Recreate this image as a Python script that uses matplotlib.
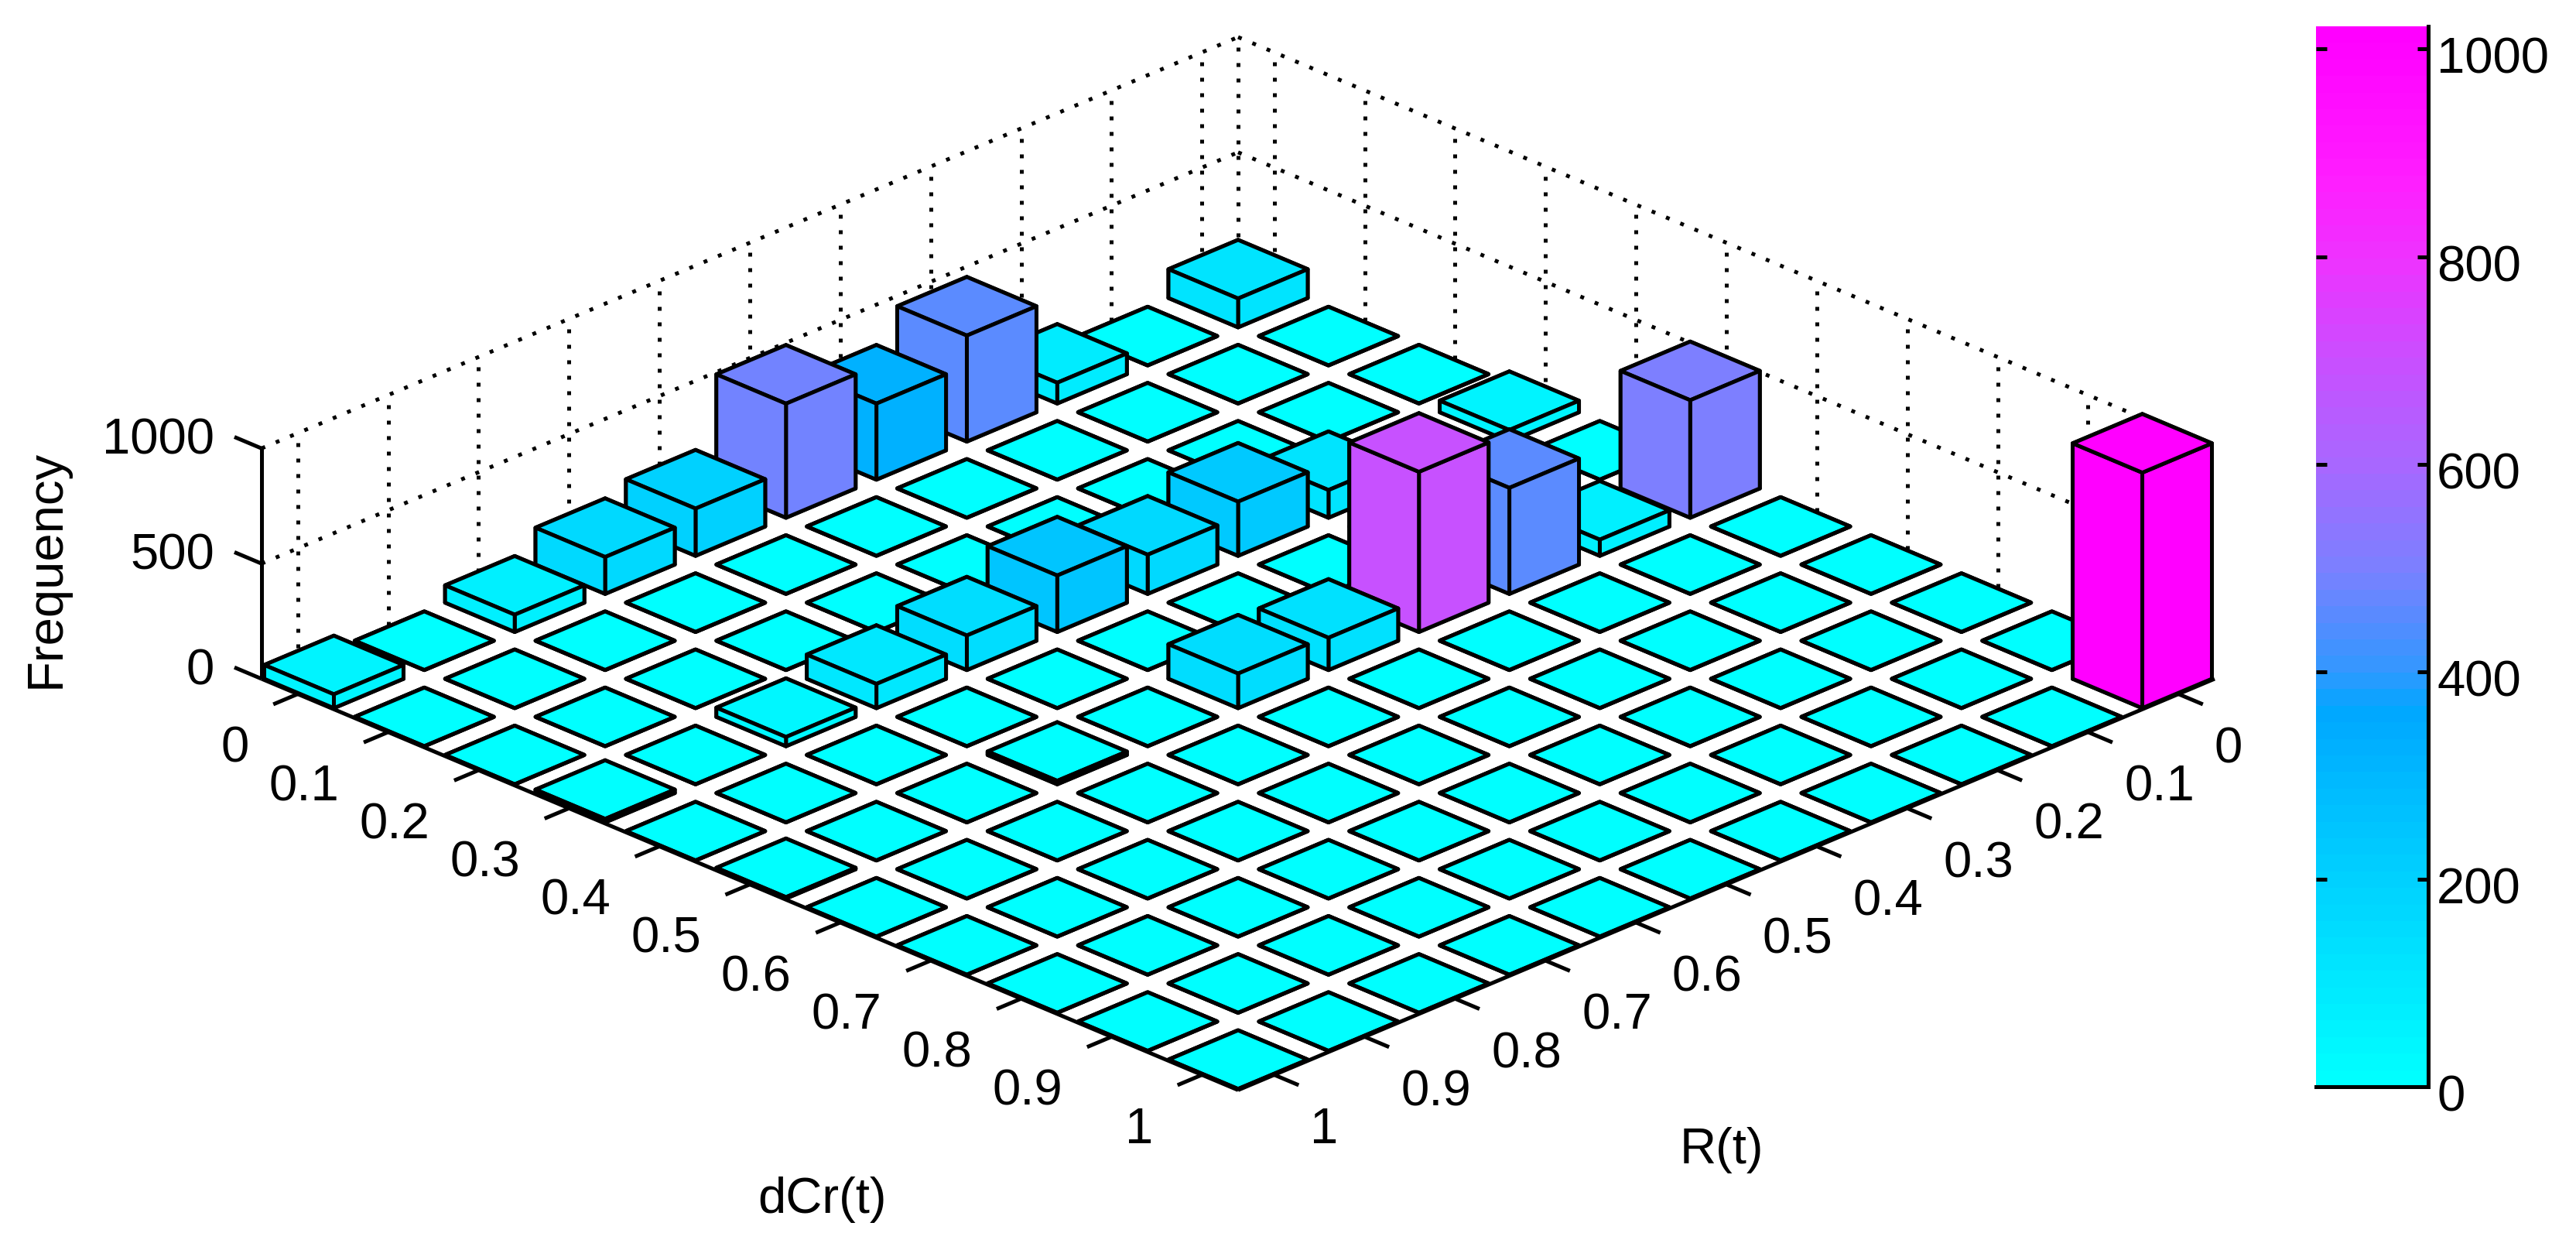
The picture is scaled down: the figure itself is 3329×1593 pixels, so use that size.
import numpy as np
import matplotlib
matplotlib.use('Agg')
import matplotlib.pyplot as plt
from matplotlib import font_manager
from matplotlib.colors import LinearSegmentedColormap
from matplotlib.transforms import ScaledTranslation
from mpl_toolkits.mplot3d import proj3d

# non-zero cells of the histogram, index = value * 10
cell_dcr = [0, 0, 0, 0, 0, 0, 0, 0, 0,
            3, 3, 3, 3, 3, 3, 3, 3, 3,
            5, 5, 5, 5, 5, 5, 5, 5,
            10]
cell_r = [0, 2, 3, 4, 5, 6, 7, 8, 10,
          0, 2, 3, 4, 5, 6, 7, 8, 10,
          0, 1, 2, 3, 4, 5, 7, 10,
          0]
cell_freq = [125, 90, 460, 330, 495, 205, 160, 75, 60,
             50, 120, 235, 170, 245, 150, 105, 40, 15,
             510, 70, 460, 695, 140, 150, 15, 6,
             1022]

tick_labels = ['0', '0.1', '0.2', '0.3', '0.4', '0.5', '0.6', '0.7', '0.8', '0.9', '1']
z_ticks = [0, 500, 1000]
cbar_ticks = [0, 200, 400, 600, 800, 1000]
cbar_max = 1022

cmap_nodes = [(0, '#00FFFF'), (200, '#00D0FF'), (360, '#00A8FF'), (400, '#3398FF'),
              (500, '#7C80FF'), (600, '#A868FF'), (700, '#C850FF'), (800, '#EE33FF'),
              (880, '#FF1EFF'), (1022, '#FF00FF')]

installed = {f.name for f in font_manager.fontManager.ttflist}
if 'Liberation Sans Narrow' in installed:
    plt.rcParams['font.family'] = ['Liberation Sans Narrow', 'Liberation Sans', 'DejaVu Sans']
    FS = 53
else:
    plt.rcParams['font.family'] = ['Liberation Sans', 'DejaVu Sans']
    FS = 47

W, H = 3330, 1593
LW = 3.6

freq = np.zeros((11, 11))
for d, r, f in zip(cell_dcr, cell_r, cell_freq):
    freq[d, r] = f

cmap = LinearSegmentedColormap.from_list(
    'freq', [(v / cbar_max, c) for v, c in cmap_nodes], N=64)

fig = plt.figure(figsize=(W / 100, H / 100), dpi=100)
side = W
ax = fig.add_axes([0, (H - side) / 2 / H, side / W, side / H],
                  projection='3d', proj_type='ortho')
ax.computed_zorder = False
ax.set_xticks([])
ax.set_yticks([])
ax.set_zticks([])
ax.set_axis_off()
ax.view_init(elev=24.9, azim=45)

lo, hi = -0.4, 10.4
half = 0.385


def to_px(x, y, z=0):
    xs, ys, _ = proj3d.proj_transform(x, y, z, ax.get_proj())
    return ax.transData.transform((xs, ys))


# walls, dotted
dots = dict(color='k', lw=LW, ls=(0, (1, 3)), zorder=1)
for k in range(11):
    ax.plot([k, k], [lo, lo], [0, 1000], **dots)
    ax.plot([lo, lo], [k, k], [0, 1000], **dots)
for z in z_ticks[1:]:
    ax.plot([hi, lo], [lo, lo], [z, z], **dots)
    ax.plot([lo, lo], [lo, hi], [z, z], **dots)
ax.plot([lo, lo], [lo, lo], [0, 1000], **dots)

# axes lines and ticks
solid = dict(color='k', lw=LW, zorder=2, solid_capstyle='butt')
ax.plot([hi, hi], [lo, lo], [0, 1000], **solid)
ax.plot([hi, hi], [lo, hi], [0, 0], **solid)
ax.plot([lo, hi], [hi, hi], [0, 0], **solid)
for k, lab in enumerate(tick_labels):
    ax.plot([hi, hi + 0.27], [k, k], [0, 0], **solid)
    ax.plot([k, k], [hi, hi + 0.27], [0, 0], **solid)
    ax.text(hi + 0.54, k, -150, lab, ha='right', va='center', fontsize=FS)
    ax.text(k, hi + 0.40, -175, lab, ha='left', va='center', fontsize=FS)
for z in z_ticks:
    ax.plot([hi, hi], [lo, lo - 0.3], [z, z], **solid)
    ax.text(hi, lo - 0.52, z - 54, str(z), ha='right', va='center', fontsize=FS)

# bars, back to front
for total in range(21):
    for d in range(11):
        r = total - d
        if r < 0 or r > 10:
            continue
        ax.bar3d(r - half, d - half, 0, 2 * half, 2 * half, freq[d, r],
                 color=cmap(freq[d, r] / cbar_max), edgecolor='k', linewidth=LW,
                 shade=False, zorder=10 + total)

ax.set_xlim(lo, hi, view_margin=0)
ax.set_ylim(lo, hi, view_margin=0)
ax.set_zlim(0, 1000, view_margin=0)

# fit the box on the figure: left corner at (338, 877), right corner at x=2862
aspect = (1, 1, 0.1839)
ax.set_box_aspect(aspect)
left = to_px(hi, lo)
right = to_px(lo, hi)
ax.set_box_aspect(aspect, zoom=(2862 - 338) / (right[0] - left[0]))
left = to_px(hi, lo)
pos = ax.get_position()
ax.set_position([pos.x0 + (338 - left[0]) / W, pos.y0 + (H - 877 - left[1]) / H,
                 pos.width, pos.height])

# colorbar
cax = fig.add_axes([2993 / W, (H - 1404) / H, 145 / W, 1370 / H])
levels = np.linspace(0, cbar_max, 64).reshape(-1, 1)
cax.imshow(levels, cmap=cmap, vmin=0, vmax=cbar_max, origin='lower', aspect='auto',
           extent=[0, 1, 0, cbar_max], interpolation='nearest')
cax.set_xticks([])
cax.set_yticks(cbar_ticks)
cax.yaxis.tick_right()
cax.tick_params(axis='y', direction='in', left=True, right=True, length=10, width=LW,
                labelsize=FS, pad=8)
for s in ['left', 'top']:
    cax.spines[s].set_visible(False)
for s in ['right', 'bottom']:
    cax.spines[s].set_linewidth(LW)
shift = ScaledTranslation(0, -8 / 100, fig.dpi_scale_trans)
for lab in cax.get_yticklabels():
    lab.set_transform(lab.get_transform() + shift)

fig.text(60 / W, 1 - 735 / H, 'Frequency', rotation=90, ha='center', va='center', fontsize=FS)
fig.text(1063 / W, 1 - 1550 / H, 'dCr(t)', ha='center', va='center', fontsize=FS)
fig.text(2225 / W, 1 - 1486 / H, 'R(t)', ha='center', va='center', fontsize=FS)

fig.savefig('out.png', dpi=100)
